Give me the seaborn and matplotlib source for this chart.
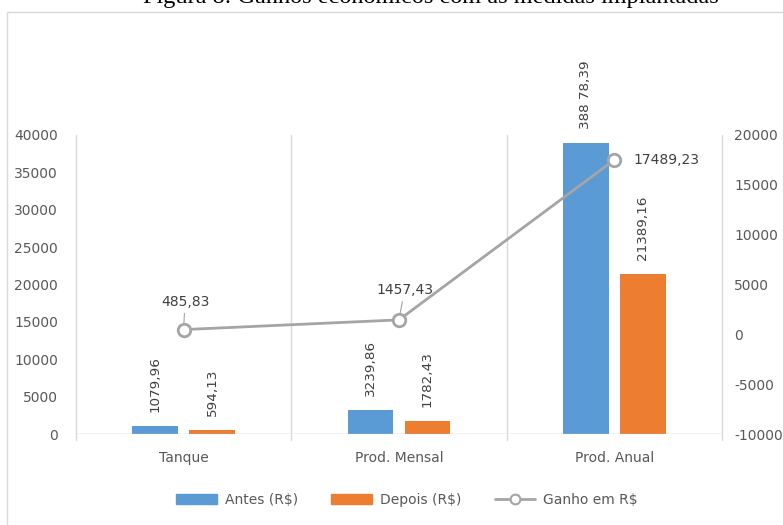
import numpy as np
import pandas as pd
import matplotlib
matplotlib.use("Agg")
import matplotlib.pyplot as plt
import seaborn as sns
from matplotlib.patches import Rectangle
from matplotlib.lines import Line2D

categorias = ["Tanque", "Prod. Mensal", "Prod. Anual"]
antes = [1079.96, 3239.86, 38878.39]
depois = [594.13, 1782.43, 21389.16]
ganho = [485.83, 1457.43, 17489.23]
rotulos_antes = ["1079,96", "3239,86", "388 78,39"]
rotulos_depois = ["594,13", "1782,43", "21389,16"]
rotulos_ganho = ["485,83", "1457,43", "17489,23"]

azul = "#5B9BD5"
laranja = "#ED7D31"
cinza = "#A5A5A5"
texto = "#595959"

sns.set_theme(style="white")
plt.rcParams['font.family'] = ['DejaVu Sans']
plt.rcParams['axes.unicode_minus'] = False

df = pd.DataFrame({
    "categoria": categorias * 2,
    "valor": antes + depois,
    "serie": ["Antes (R$)"] * 3 + ["Depois (R$)"] * 3,
})

fig = plt.figure(figsize=(7.83, 5.25), dpi=100)
ax = fig.add_axes([0.097, 0.173, 0.825, 0.570])

sns.barplot(data=df, x="categoria", y="valor", hue="serie", order=categorias,
            palette=[azul, laranja], width=0.53, gap=0.2, ax=ax, legend=False,
            saturation=1, linewidth=0)

ax.set_ylim(0, 40000)
ax.set_xlim(-0.5, 2.5)
ax.set_yticks(range(0, 40001, 5000))
ax.set_xlabel("")
ax.set_ylabel("")
for s in ax.spines.values():
    s.set_visible(False)
ax.axhline(0, color="#BFBFBF", lw=1)
for xb in [-0.5, 0.5, 1.5, 2.5]:
    ax.axvline(xb, color="#D9D9D9", lw=1, ymin=-0.02, clip_on=False)
ax.tick_params(axis="both", length=0, colors=texto, labelsize=10)
ax.tick_params(axis="x", pad=12)
ax.tick_params(axis="y", pad=13)

# rotulos das barras
for cont, rot in zip(ax.containers, [rotulos_antes, rotulos_depois]):
    for bar, r in zip(cont, rot):
        ax.annotate(r, (bar.get_x() + bar.get_width() / 2, bar.get_height()),
                    xytext=(0, 10), textcoords="offset points", rotation=90,
                    ha="center", va="bottom", fontsize=9.7, color="#404040")

ax2 = ax.twinx()
ax2.set_ylim(-10000, 20000)
ax2.set_yticks(range(-10000, 20001, 5000))
for s in ax2.spines.values():
    s.set_visible(False)
ax2.tick_params(axis="y", length=0, colors=texto, labelsize=10, pad=9)
ax2.plot(range(len(categorias)), ganho, color=cinza, lw=2, marker="o", ms=9,
         mfc="white", mec=cinza, mew=2, zorder=5)

offsets = [(1, 20, "center"), (4, 21.5, "center"), (14, 0, "left")]
for i, (r, (dx, dy, ha)) in enumerate(zip(rotulos_ganho, offsets)):
    seta = None
    if dy > 0:
        seta = dict(arrowstyle="-", color=cinza, lw=0.8, shrinkA=1, shrinkB=5)
    ax2.annotate(r, (i, ganho[i]), xytext=(dx, dy), textcoords="offset points",
                 ha=ha, va="center", fontsize=10, color="#404040", arrowprops=seta)

# legenda
handles = [
    Rectangle((0, 0), 1, 1, color=azul),
    Rectangle((0, 0), 1, 1, color=laranja),
    Line2D([0], [0], color=cinza, lw=2, marker="o", ms=7, mfc="white", mec=cinza, mew=1.5),
]
fig.legend(handles, ["Antes (R$)", "Depois (R$)", "Ganho em R$"], loc="center",
           bbox_to_anchor=(0.52, 0.048), ncol=3, frameon=False, fontsize=10,
           labelcolor=texto, handlelength=2.9, columnspacing=2.4, handletextpad=0.6)

# moldura e titulo
fig.patches.append(Rectangle((0.009, -0.01), 1.2, 0.987, transform=fig.transFigure,
                             fill=False, edgecolor="#D9D9D9", lw=1))
fig.text(0.55, 0.994, "Figura 8: Ganhos econômicos com as medidas implantadas",
         ha="center", va="baseline", fontsize=17.5, family="Liberation Serif", color="black")

fig.savefig("out.png", dpi=100)
